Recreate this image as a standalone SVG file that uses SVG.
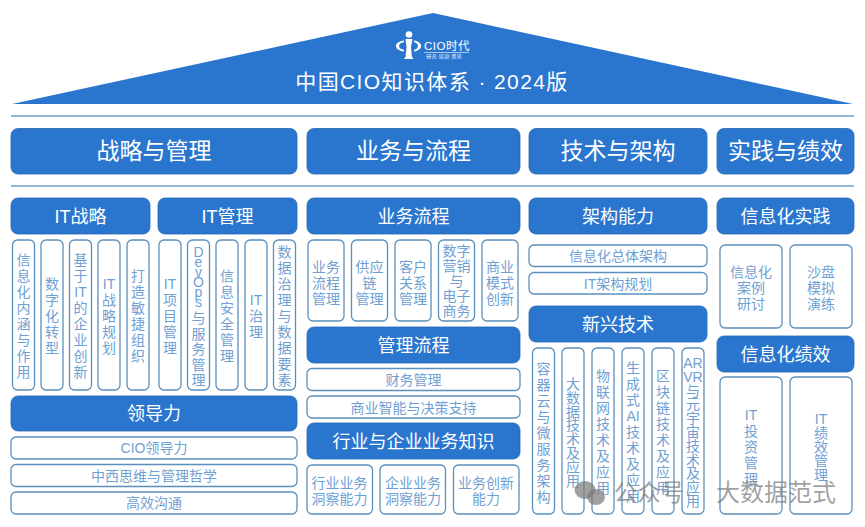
<svg xmlns="http://www.w3.org/2000/svg" width="865" height="527" viewBox="0 0 865 527">
<style>
text{font-family:"Liberation Sans","Noto Sans CJK SC","Noto Sans",sans-serif;text-anchor:middle}
.h{fill:#2a76cf;stroke:#2468b4;stroke-width:.8}
.b{fill:#fff;stroke:#5b90bd;stroke-width:1.3}
.cat{fill:#fff;font-size:23px}
.sub{fill:#fff;font-size:18px}
.t{fill:#6f9fd3;font-size:14px}
.rule{stroke:#6c9fc4;stroke-width:1.6}
</style>
<rect width="865" height="527" fill="#fff"/>
<g id="roof">
<polygon points="433,13 853,104 12,104" fill="#2a76cf"/>
<g id="logo" fill="#fff">
<circle cx="409" cy="34.500" r="3.300"/>
<path d="M405.500 39h7l-1.500 8 .8 9.500 1.700 2.500h-9.500l1.700-2.500.8-9.500z"/>
<path d="M404 40.500c-5 .8-8 2.800-8 5.500s3 4.700 8 5.500v-1.500c-3-.7-5-2-5-4s2-3.300 5-4z"/>
<path d="M414 40.500c4.500.8 7 2.800 7 5.500s-2.500 4.700-7 5.500v-1.500c2.500-.7 4-2 4-4s-1.500-3.300-4-4z"/>
<rect x="424" y="52" width="45" height=".6"/>
<text x="447" y="50" style="font-size:11.500px;letter-spacing:.5px">CIO时代</text>
<text x="444" y="58" style="font-size:5px;letter-spacing:.3px">研究·培训·资讯</text>
</g>
<text x="432" y="89" fill="#fff" style="font-size:21px;letter-spacing:1.400px">中国CIO知识体系 · 2024版</text>
</g>
<g id="rules"><line class="rule" x1="11" y1="116" x2="854" y2="116"/><line class="rule" x1="11" y1="186" x2="854" y2="186"/></g>

<g id="cat-1"><rect class="h" x="11" y="128.500" width="286" height="45.500" rx="7"/><text class="cat" x="154" y="159">战略与管理</text></g>
<g id="cat-2"><rect class="h" x="307" y="128.500" width="213" height="45.500" rx="7"/><text class="cat" x="413.500" y="159">业务与流程</text></g>
<g id="cat-3"><rect class="h" x="529" y="128.500" width="178" height="45.500" rx="7"/><text class="cat" x="618" y="159">技术与架构</text></g>
<g id="cat-4"><rect class="h" x="717" y="128.500" width="137" height="45.500" rx="7"/><text class="cat" x="785.500" y="159">实践与绩效</text></g>

<g id="it-strategy"><rect class="h" x="11" y="198" width="139" height="36" rx="7"/><text class="sub" x="80.500" y="223">IT战略</text></g>
<g id="it-management"><rect class="h" x="158" y="198" width="139" height="36" rx="7"/><text class="sub" x="227.500" y="223">IT管理</text></g>
<g id="leadership"><rect class="h" x="11" y="396" width="286" height="35" rx="7"/><text class="sub" x="154" y="420">领导力</text></g>
<g id="biz-process"><rect class="h" x="307" y="198" width="213" height="36" rx="7"/><text class="sub" x="413.500" y="223">业务流程</text></g>
<g id="mgmt-process"><rect class="h" x="307" y="327" width="213" height="36" rx="7"/><text class="sub" x="413.500" y="352">管理流程</text></g>
<g id="industry"><rect class="h" x="307" y="423" width="213" height="36" rx="7"/><text class="sub" x="413.500" y="448">行业与企业业务知识</text></g>
<g id="arch"><rect class="h" x="529" y="198" width="178" height="36" rx="7"/><text class="sub" x="618" y="223">架构能力</text></g>
<g id="emerging"><rect class="h" x="529" y="306" width="178" height="36" rx="7"/><text class="sub" x="618" y="331">新兴技术</text></g>
<g id="practice"><rect class="h" x="717" y="198" width="137" height="36" rx="7"/><text class="sub" x="785.500" y="223">信息化实践</text></g>
<g id="performance"><rect class="h" x="717" y="336" width="137" height="36" rx="7"/><text class="sub" x="785.500" y="361">信息化绩效</text></g>

<g id="s1"><rect class="b" x="12.500" y="240" width="22" height="150" rx="5"/><text class="t" x="23.500" y="265"><tspan x="23.500">信</tspan><tspan x="23.500" dy="16">息</tspan><tspan x="23.500" dy="16">化</tspan><tspan x="23.500" dy="16">内</tspan><tspan x="23.500" dy="16">涵</tspan><tspan x="23.500" dy="16">与</tspan><tspan x="23.500" dy="16">作</tspan><tspan x="23.500" dy="16">用</tspan></text></g>
<g id="s2"><rect class="b" x="41" y="240" width="22" height="150" rx="5"/><text class="t" y="289"><tspan x="52">数</tspan><tspan x="52" dy="16">字</tspan><tspan x="52" dy="16">化</tspan><tspan x="52" dy="16">转</tspan><tspan x="52" dy="16">型</tspan></text></g>
<g id="s3"><rect class="b" x="69.500" y="240" width="22" height="150" rx="5"/><text class="t" y="265"><tspan x="80.500">基</tspan><tspan x="80.500" dy="16">于</tspan><tspan x="80.500" dy="16">IT</tspan><tspan x="80.500" dy="16">的</tspan><tspan x="80.500" dy="16">企</tspan><tspan x="80.500" dy="16">业</tspan><tspan x="80.500" dy="16">创</tspan><tspan x="80.500" dy="16">新</tspan></text></g>
<g id="s4"><rect class="b" x="98" y="240" width="22" height="150" rx="5"/><text class="t" y="289"><tspan x="109">IT</tspan><tspan x="109" dy="16">战</tspan><tspan x="109" dy="16">略</tspan><tspan x="109" dy="16">规</tspan><tspan x="109" dy="16">划</tspan></text></g>
<g id="s5"><rect class="b" x="127" y="240" width="22" height="150" rx="5"/><text class="t" y="281"><tspan x="138">打</tspan><tspan x="138" dy="16">造</tspan><tspan x="138" dy="16">敏</tspan><tspan x="138" dy="16">捷</tspan><tspan x="138" dy="16">组</tspan><tspan x="138" dy="16">织</tspan></text></g>
<g id="m1"><rect class="b" x="159" y="240" width="22" height="150" rx="5"/><text class="t" y="289"><tspan x="170">IT</tspan><tspan x="170" dy="16">项</tspan><tspan x="170" dy="16">目</tspan><tspan x="170" dy="16">管</tspan><tspan x="170" dy="16">理</tspan></text></g>
<g id="m2"><rect class="b" x="187.500" y="240" width="22" height="150" rx="5"/><text class="t"><tspan x="198.500" y="257">D</tspan><tspan x="198.500" y="267">e</tspan><tspan x="198.500" y="277">v</tspan><tspan x="198.500" y="287">O</tspan><tspan x="198.500" y="297">p</tspan><tspan x="198.500" y="307">s</tspan><tspan x="198.500" y="323">与</tspan><tspan x="198.500" y="339">服</tspan><tspan x="198.500" y="354">务</tspan><tspan x="198.500" y="370">管</tspan><tspan x="198.500" y="385">理</tspan></text></g>
<g id="m3"><rect class="b" x="216" y="240" width="22" height="150" rx="5"/><text class="t" y="281"><tspan x="227">信</tspan><tspan x="227" dy="16">息</tspan><tspan x="227" dy="16">安</tspan><tspan x="227" dy="16">全</tspan><tspan x="227" dy="16">管</tspan><tspan x="227" dy="16">理</tspan></text></g>
<g id="m4"><rect class="b" x="245" y="240" width="22" height="150" rx="5"/><text class="t" y="305"><tspan x="256">IT</tspan><tspan x="256" dy="16">治</tspan><tspan x="256" dy="16">理</tspan></text></g>
<g id="m5"><rect class="b" x="273.500" y="240" width="22" height="150" rx="5"/><text class="t" y="257"><tspan x="284.500">数</tspan><tspan x="284.500" dy="16">据</tspan><tspan x="284.500" dy="16">治</tspan><tspan x="284.500" dy="16">理</tspan><tspan x="284.500" dy="16">与</tspan><tspan x="284.500" dy="16">数</tspan><tspan x="284.500" dy="16">据</tspan><tspan x="284.500" dy="16">要</tspan><tspan x="284.500" dy="16">素</tspan></text></g>

<g id="l1"><rect class="b" x="11" y="437" width="286" height="22" rx="5"/><text class="t" x="154" y="453">CIO领导力</text></g>
<g id="l2"><rect class="b" x="11" y="464.500" width="286" height="22" rx="5"/><text class="t" x="154" y="481">中西思维与管理哲学</text></g>
<g id="l3"><rect class="b" x="11" y="492" width="286" height="22" rx="5"/><text class="t" x="154" y="508">高效沟通</text></g>

<g id="b1"><rect class="b" x="308" y="240" width="36" height="81" rx="5"/><text class="t" y="271.500"><tspan x="326">业务</tspan><tspan x="326" dy="16">流程</tspan><tspan x="326" dy="16">管理</tspan></text></g>
<g id="b2"><rect class="b" x="351.500" y="240" width="36" height="81" rx="5"/><text class="t" y="271.500"><tspan x="369.500">供应</tspan><tspan x="369.500" dy="16">链</tspan><tspan x="369.500" dy="16">管理</tspan></text></g>
<g id="b3"><rect class="b" x="395" y="240" width="36" height="81" rx="5"/><text class="t" y="271.500"><tspan x="413">客户</tspan><tspan x="413" dy="16">关系</tspan><tspan x="413" dy="16">管理</tspan></text></g>
<g id="b4"><rect class="b" x="438.500" y="240" width="36" height="81" rx="5"/><text class="t" y="256"><tspan x="456.500">数字</tspan><tspan x="456.500" dy="15">营销</tspan><tspan x="456.500" dy="15">与</tspan><tspan x="456.500" dy="15">电子</tspan><tspan x="456.500" dy="15">商务</tspan></text></g>
<g id="b5"><rect class="b" x="482" y="240" width="36" height="81" rx="5"/><text class="t" y="271.500"><tspan x="500">商业</tspan><tspan x="500" dy="16">模式</tspan><tspan x="500" dy="16">创新</tspan></text></g>

<g id="p1"><rect class="b" x="307" y="368.500" width="213" height="22" rx="5"/><text class="t" x="413.500" y="385">财务管理</text></g>
<g id="p2"><rect class="b" x="307" y="396" width="213" height="22" rx="5"/><text class="t" x="413.500" y="412.500">商业智能与决策支持</text></g>

<g id="i1"><rect class="b" x="307" y="465" width="65.500" height="49" rx="5"/><text class="t" y="487.500"><tspan x="339.500">行业业务</tspan><tspan x="339.500" dy="16">洞察能力</tspan></text></g>
<g id="i2"><rect class="b" x="380" y="465" width="65.500" height="49" rx="5"/><text class="t" y="487.500"><tspan x="413">企业业务</tspan><tspan x="413" dy="16">洞察能力</tspan></text></g>
<g id="i3"><rect class="b" x="453.500" y="465" width="65.500" height="49" rx="5"/><text class="t" y="487.500"><tspan x="486">业务创新</tspan><tspan x="486" dy="16">能力</tspan></text></g>

<g id="a1"><rect class="b" x="529" y="245" width="178" height="21.500" rx="5"/><text class="t" x="618" y="261">信息化总体架构</text></g>
<g id="a2"><rect class="b" x="529" y="272.500" width="178" height="21.500" rx="5"/><text class="t" x="618" y="289">IT架构规划</text></g>

<g id="e1"><rect class="b" x="532.500" y="348" width="22" height="166" rx="5"/><text class="t" y="373.500"><tspan x="543.500">容</tspan><tspan x="543.500" dy="16">器</tspan><tspan x="543.500" dy="16">云</tspan><tspan x="543.500" dy="16">与</tspan><tspan x="543.500" dy="16">微</tspan><tspan x="543.500" dy="16">服</tspan><tspan x="543.500" dy="16">务</tspan><tspan x="543.500" dy="16">架</tspan><tspan x="543.500" dy="16">构</tspan></text></g>
<g id="e2"><rect class="b" x="562" y="348" width="22" height="166" rx="5"/><text class="t" y="389"><tspan x="573">大</tspan><tspan x="573" dy="13.800">数</tspan><tspan x="573" dy="13.800">据</tspan><tspan x="573" dy="13.800">技</tspan><tspan x="573" dy="13.800">术</tspan><tspan x="573" dy="13.800">及</tspan><tspan x="573" dy="13.800">应</tspan><tspan x="573" dy="13.800">用</tspan></text></g>
<g id="e3"><rect class="b" x="592" y="348" width="22" height="166" rx="5"/><text class="t" y="381"><tspan x="603">物</tspan><tspan x="603" dy="16">联</tspan><tspan x="603" dy="16">网</tspan><tspan x="603" dy="16">技</tspan><tspan x="603" dy="16">术</tspan><tspan x="603" dy="16">及</tspan><tspan x="603" dy="16">应</tspan><tspan x="603" dy="16">用</tspan></text></g>
<g id="e4"><rect class="b" x="622" y="348" width="22" height="166" rx="5"/><text class="t" y="373"><tspan x="633">生</tspan><tspan x="633" dy="16">成</tspan><tspan x="633" dy="16">式</tspan><tspan x="633" dy="16">AI</tspan><tspan x="633" dy="16">技</tspan><tspan x="633" dy="16">术</tspan><tspan x="633" dy="16">及</tspan><tspan x="633" dy="16">应</tspan><tspan x="633" dy="16">用</tspan></text></g>
<g id="e5"><rect class="b" x="652" y="348" width="22" height="166" rx="5"/><text class="t" y="381"><tspan x="663">区</tspan><tspan x="663" dy="16">块</tspan><tspan x="663" dy="16">链</tspan><tspan x="663" dy="16">技</tspan><tspan x="663" dy="16">术</tspan><tspan x="663" dy="16">及</tspan><tspan x="663" dy="16">应</tspan><tspan x="663" dy="16">用</tspan></text></g>
<g id="e6"><rect class="b" x="682" y="348" width="22" height="166" rx="5"/><text class="t" y="368"><tspan x="693">AR</tspan><tspan x="693" dy="13.800">VR</tspan><tspan x="693" dy="13.800">与</tspan><tspan x="693" dy="13.800">元</tspan><tspan x="693" dy="13.800">宇</tspan><tspan x="693" dy="13.800">宙</tspan><tspan x="693" dy="13.800">技</tspan><tspan x="693" dy="13.800">术</tspan><tspan x="693" dy="13.800">及</tspan><tspan x="693" dy="13.800">应</tspan><tspan x="693" dy="13.800">用</tspan></text></g>

<g id="c1"><rect class="b" x="720" y="245" width="62" height="83" rx="5"/><text class="t" y="277"><tspan x="751">信息化</tspan><tspan x="751" dy="16">案例</tspan><tspan x="751" dy="16">研讨</tspan></text></g>
<g id="c2"><rect class="b" x="790" y="245" width="62" height="83" rx="5"/><text class="t" y="277"><tspan x="821">沙盘</tspan><tspan x="821" dy="16">模拟</tspan><tspan x="821" dy="16">演练</tspan></text></g>
<g id="f1"><rect class="b" x="720" y="377" width="62" height="137" rx="5"/><text class="t" y="419.500"><tspan x="751">IT</tspan><tspan x="751" dy="16">投</tspan><tspan x="751" dy="16">资</tspan><tspan x="751" dy="16">管</tspan><tspan x="751" dy="16">理</tspan></text></g>
<g id="f2"><rect class="b" x="790" y="377" width="62" height="137" rx="5"/><text class="t" y="424"><tspan x="821">IT</tspan><tspan x="821" dy="14">绩</tspan><tspan x="821" dy="14">效</tspan><tspan x="821" dy="14">管</tspan><tspan x="821" dy="14">理</tspan></text></g>

<g id="watermark" fill="#7d7d7d" fill-opacity=".72">
<ellipse cx="585" cy="490" rx="10.500" ry="9"/>
<ellipse cx="596" cy="497" rx="9" ry="8"/>
<text x="653" y="500.500" style="font-size:23.500px">公众号·</text>
<text x="776" y="500.500" style="font-size:24px">大数据范式</text>
</g>
</svg>
